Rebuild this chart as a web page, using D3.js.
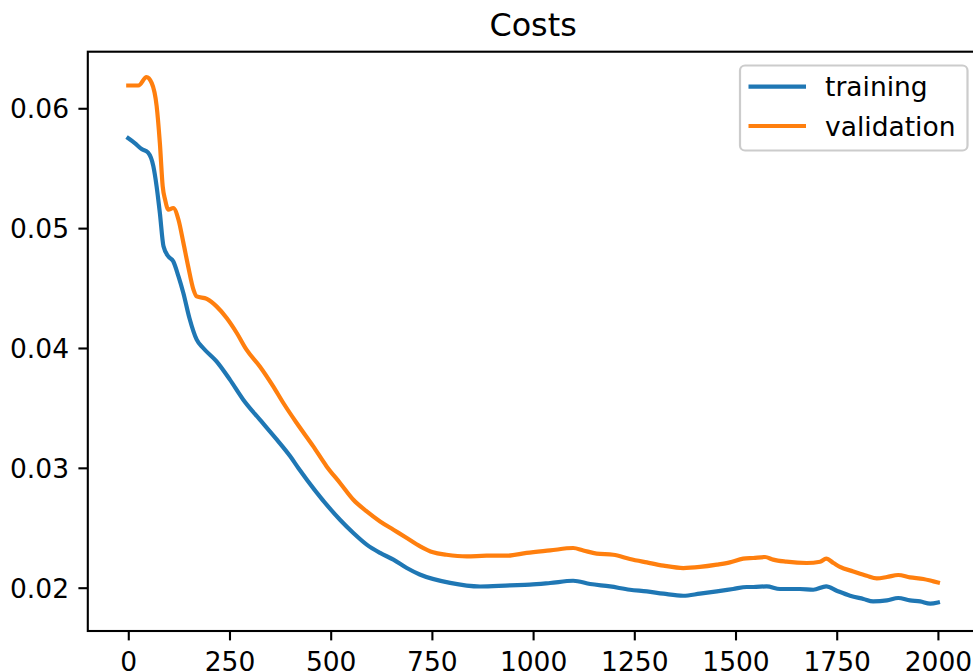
<!DOCTYPE html>
<html lang="en">
<head>
  <meta charset="UTF-8">
  <title>Costs</title>
  <script src="https://d3js.org/d3.v7.min.js"></script>
  <style>
    body { margin: 0; background: #fff; overflow: hidden; }
    text { font-family: "DejaVu Sans", sans-serif; fill: #000; }
  </style>
</head>
<body>
  <div id="chart"></div>
  <script>
    // values (iteration, cost)
    const trainIter = [0, 16, 33, 49, 62, 70, 78, 87, 99, 111, 124, 136, 151, 169, 185, 218, 251, 284, 325, 367, 400, 420,
      523, 556, 589, 622, 655, 688, 720, 795, 869, 943, 992, 1042, 1099, 1141, 1190, 1239, 1281, 1322, 1371, 1412, 1454,
      1494, 1528, 1544, 1577, 1610, 1659, 1692, 1724, 1750, 1783, 1816, 1840, 1874, 1902, 1931, 1956, 1981, 2000];
    const trainCost = [0.0575, 0.0571, 0.0566, 0.0563, 0.05515, 0.05348, 0.05126, 0.04848, 0.04764, 0.04723, 0.04597,
      0.04459, 0.0425, 0.04069, 0.04, 0.03888, 0.03736, 0.03569, 0.03402, 0.03235, 0.03096, 0.02999,
      0.02567, 0.02456, 0.02359, 0.0229, 0.02234, 0.02164, 0.0211, 0.0204, 0.0201, 0.0202, 0.02025, 0.02039, 0.02058,
      0.02031, 0.02011, 0.01983, 0.01969, 0.0195, 0.01933, 0.0195, 0.01969, 0.01989, 0.02006, 0.02006, 0.02011, 0.01989,
      0.01989, 0.01983, 0.02011, 0.01975, 0.01933, 0.01906, 0.01886, 0.01894, 0.01914, 0.01894, 0.01886, 0.01867, 0.01877];

    const validIter = [0, 25, 45, 58, 70, 78, 85, 91, 99, 111, 124, 136, 148, 161, 169, 194, 218, 243, 268, 292, 325, 358,
      383, 416, 457, 490, 523, 556, 589, 622, 655, 688, 721, 753, 786, 836, 885, 935, 984, 1042, 1099, 1124, 1157, 1198,
      1239, 1281, 1322, 1371, 1412, 1454, 1486, 1519, 1544, 1573, 1593, 1626, 1676, 1709, 1724, 1742, 1758, 1791, 1824,
      1849, 1874, 1902, 1931, 1964, 1989, 2000];
    const validCost = [0.0619, 0.0619, 0.0626, 0.0621, 0.0602, 0.0571, 0.0535, 0.05237, 0.05154, 0.05168, 0.0507, 0.0488,
      0.0468, 0.04487, 0.0443, 0.04409, 0.04347, 0.0425, 0.04125, 0.03986, 0.03846, 0.0368, 0.03541, 0.03374, 0.03179,
      0.03012, 0.02874, 0.02734, 0.02637, 0.02553, 0.02484, 0.02415, 0.02345, 0.02295, 0.02275, 0.02261, 0.02267, 0.02267,
      0.0229, 0.02311, 0.02331, 0.02311, 0.02284, 0.02275, 0.0224, 0.02211, 0.02184, 0.02164, 0.02173, 0.02192, 0.02211,
      0.02242, 0.02248, 0.02256, 0.02234, 0.02217, 0.02206, 0.02217, 0.02242, 0.02206, 0.02173, 0.02136, 0.021, 0.02078,
      0.02089, 0.02106, 0.02086, 0.02073, 0.02053, 0.02044];

    const xTicks = [0, 250, 500, 750, 1000, 1250, 1500, 1750, 2000];
    const yTicks = [0.02, 0.03, 0.04, 0.05, 0.06];
    const seriesNames = ["training", "validation"];
    const seriesColors = ["#1f77b4", "#ff7f0e"];

    const width = 973, height = 672;
    const axLeft = 87.8, axRight = 978.4, axTop = 51.7, axBottom = 631;
    const fs = 26.5;          // tick / legend font
    const tickLen = 9.4;

    const x = d3.scaleLinear().domain([-100, 2100]).range([axLeft, axRight]);
    const y = d3.scaleLinear().domain([0.016387, 0.06472]).range([axBottom, axTop]);

    const svg = d3.select("#chart").append("svg")
      .attr("width", width)
      .attr("height", height);

    // the lines
    const line = d3.line()
      .x(d => x(d[0]))
      .y(d => y(d[1]))
      .curve(d3.curveMonotoneX);

    const series = [
      d3.zip(trainIter, trainCost),
      d3.zip(validIter, validCost)
    ];

    svg.append("g")
      .selectAll("path")
      .data(series)
      .join("path")
      .attr("fill", "none")
      .attr("stroke", (d, i) => seriesColors[i])
      .attr("stroke-width", 4.2)
      .attr("stroke-linejoin", "round")
      .attr("stroke-linecap", "square")
      .attr("d", line);

    // axes
    const xAxis = svg.append("g")
      .attr("transform", `translate(0,${axBottom})`)
      .call(d3.axisBottom(x).tickValues(xTicks).tickSize(tickLen).tickFormat(d3.format("d")));
    const yAxis = svg.append("g")
      .attr("transform", `translate(${axLeft},0)`)
      .call(d3.axisLeft(y).tickValues(yTicks).tickSize(tickLen).tickPadding(tickLen).tickFormat(d3.format(".2f")));

    [xAxis, yAxis].forEach(a => {
      a.select(".domain").remove();
      a.selectAll(".tick line").attr("stroke", "#000").attr("stroke-width", 2.1);
      a.selectAll(".tick text").attr("font-size", fs).attr("font-family", "DejaVu Sans");
    });
    xAxis.selectAll(".tick text").attr("dy", null).attr("y", 39.5);
    yAxis.selectAll(".tick text").attr("dy", "0.36em");

    // spines
    svg.append("rect")
      .attr("x", axLeft)
      .attr("y", axTop)
      .attr("width", axRight - axLeft)
      .attr("height", axBottom - axTop)
      .attr("fill", "none")
      .attr("stroke", "#000")
      .attr("stroke-width", 2.1);

    // title
    svg.append("text")
      .attr("x", (axLeft + axRight) / 2)
      .attr("y", 36)
      .attr("text-anchor", "middle")
      .attr("font-size", 31.8)
      .text("Costs");

    // legend
    const legend = svg.append("g");
    legend.append("rect")
      .attr("x", 740)
      .attr("y", 65.5)
      .attr("width", 227.5)
      .attr("height", 85)
      .attr("rx", 5)
      .attr("fill", "rgba(255,255,255,0.8)")
      .attr("stroke", "#cccccc")
      .attr("stroke-width", 2.2);

    const item = legend.selectAll("g.item")
      .data(seriesNames)
      .join("g")
      .attr("class", "item")
      .attr("transform", (d, i) => `translate(0,${86.7 + i * 39.3})`);
    item.append("line")
      .attr("x1", 748.5)
      .attr("x2", 806)
      .attr("stroke", (d, i) => seriesColors[i])
      .attr("stroke-width", 4.2);
    item.append("text")
      .attr("x", 825)
      .attr("dy", "0.36em")
      .attr("font-size", fs)
      .text(d => d);
  </script>
</body>
</html>
